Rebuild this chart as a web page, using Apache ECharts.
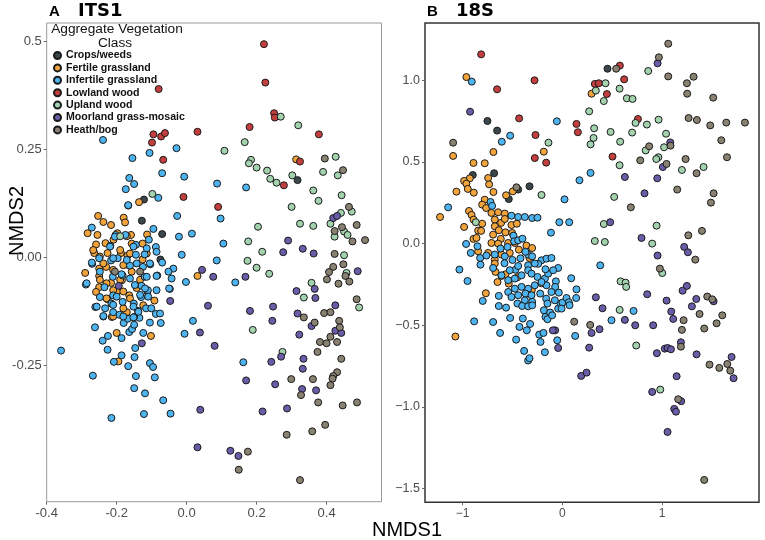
<!DOCTYPE html>
<html>
<head>
<meta charset="utf-8">
<script src="https://cdn.jsdelivr.net/npm/echarts@6/dist/echarts.min.js"></script>
<style>
  html, body { margin: 0; padding: 0; background: #fff; }
  #chart { width: 765px; height: 540px; }
</style>
</head>
<body>
<div id="chart"></div>
<script>
// vegetation classes (legend order) and their colours
var classNames = ['Crops/weeds', 'Fertile grassland', 'Infertile grassland', 'Lowland wood', 'Upland wood', 'Moorland grass-mosaic', 'Heath/bog'];
var classColors = ['#3b474c', '#f2a43c', '#4db4f0', '#c23f3e', '#a2d3ae', '#6a5ca8', '#898171'];

// tick values
var itsXTicks = [-0.4, -0.2, 0, 0.2, 0.4];
var itsYTicks = [-0.25, 0, 0.25, 0.5];
var s18XTicks = [-1, 0, 1];
var s18YTicks = [-1.5, -1, -0.5, 0, 0.5, 1];

/* A: ITS1 ordination, [NMDS1, NMDS2] */
var itsCrops = [[0.317,0.179],[-0.122,0.134],[-0.128,0.085],[-0.070,0.054],[-0.075,-0.005],[-0.112,-0.079]];
var itsFertile = [[0.313,0.227],[-0.136,0.128],[-0.253,0.096],[-0.238,0.082],[-0.216,0.075],[-0.180,0.092],[-0.176,0.081],[-0.283,0.056],[-0.255,0.052],[-0.113,0.053],[-0.259,0.030],[-0.232,0.033],[-0.209,0.041],[-0.159,0.052],[-0.126,0.032],[-0.264,0.010],[-0.226,0.010],[-0.188,0.010],[-0.169,0.004],[-0.126,-0.005],
  [-0.290,-0.036],[-0.250,-0.043],[-0.250,-0.069],[-0.259,-0.080],[-0.226,-0.097],[-0.214,-0.138],[-0.200,-0.175],[-0.195,-0.241],[-0.171,-0.127],[-0.124,-0.111],[-0.092,-0.100],[-0.102,-0.182],[-0.143,-0.071],[-0.164,-0.088],[-0.199,-0.079],[-0.250,-0.026],[-0.230,-0.022],[-0.170,-0.017],[-0.185,-0.053],[0.031,-0.043],[-0.216,-0.059],
  [-0.267,0.017],[-0.248,0.002],[-0.190,0.017],[-0.162,0.009],[-0.157,0.032],[-0.114,0.009],[-0.238,-0.014],[-0.210,-0.029],[-0.181,-0.018],[-0.157,-0.033],[-0.133,-0.052],[-0.248,-0.052],[-0.229,-0.060],[-0.190,-0.052],[-0.210,-0.076],[-0.181,-0.079],[-0.162,-0.095],[-0.229,-0.095],[-0.210,-0.137],[-0.181,-0.118],[-0.198,0.056],[-0.171,0.049]];
var itsInfertile = [[-0.239,0.272],[-0.106,0.242],[-0.029,0.253],[-0.155,0.230],[-0.070,0.195],[-0.007,0.187],[-0.164,0.184],[-0.150,0.170],[-0.174,0.158],[0.087,0.171],[0.170,0.162],[-0.081,0.138],[-0.167,0.120],[-0.027,0.096],[0.097,0.090],[-0.271,0.069],[-0.095,0.066],[0.015,0.055],[-0.022,0.048],[-0.203,0.052],[-0.175,0.052],[0.105,0.032],[-0.014,0.006],[0.086,-0.007],[-0.145,0.029],[-0.108,0.041],[-0.088,0.024],[-0.218,0.027],[-0.145,0.006],[-0.120,0.007],[-0.216,-0.007],[-0.250,-0.002],[-0.197,-0.002],
  [-0.359,-0.216],[-0.288,-0.063],[-0.270,-0.015],[-0.261,-0.115],[-0.262,-0.162],[-0.238,-0.137],[-0.240,-0.193],[-0.225,-0.182],[-0.226,-0.214],[-0.268,-0.274],[-0.215,-0.372],[-0.208,-0.242],[-0.186,-0.227],[-0.186,-0.187],[-0.167,-0.252],[-0.149,-0.231],[-0.147,-0.210],[-0.145,-0.275],[-0.150,-0.303],[-0.119,-0.315],[-0.122,-0.363],[-0.105,-0.245],[-0.096,-0.254],[-0.091,-0.278],[-0.067,-0.331],[-0.046,-0.362],[-0.124,-0.175],[-0.164,-0.173],[-0.156,-0.166],[-0.150,-0.156],[-0.180,-0.152],[-0.168,-0.142],[-0.135,-0.140],[-0.105,-0.151],[-0.074,-0.152],[-0.088,-0.131],[-0.116,-0.118],[-0.101,-0.118],[-0.139,-0.124],[-0.150,-0.138],[-0.192,-0.133],[-0.210,-0.127],[-0.248,-0.092],[-0.215,-0.107],[-0.183,-0.103],[-0.151,-0.107],[-0.130,-0.092],[-0.111,-0.076],[-0.048,-0.073],[-0.043,-0.049],[-0.038,-0.026],[-0.084,-0.042],[-0.120,-0.045],[-0.125,-0.022],[-0.104,-0.016],[-0.070,-0.012],[-0.162,-0.019],[-0.183,-0.042],[-0.211,-0.045],[-0.235,-0.069],[-0.210,-0.088],[-0.002,-0.057],[0.018,-0.147],[-0.006,-0.177],[0.139,-0.058],[0.162,-0.243],[-0.129,-0.066],
  [-0.167,0.121],[-0.205,0.048],[-0.152,0.025],[-0.114,0.021],[-0.086,0.013],[-0.052,-0.033],[-0.219,0.025],[-0.271,-0.012],[-0.210,-0.002],[-0.171,-0.006],[-0.143,-0.014],[-0.105,-0.014],[-0.248,-0.033],[-0.186,-0.039],[-0.162,-0.049],[-0.114,-0.045],[-0.086,-0.043],[-0.286,-0.060],[-0.148,-0.064],[-0.119,-0.072],[-0.086,-0.076],[-0.050,-0.072],[-0.200,-0.091],[-0.133,-0.087],[-0.110,-0.091],[-0.257,-0.114],[-0.233,-0.118],[-0.210,-0.110],[-0.152,-0.114],[-0.138,-0.126],[-0.076,-0.130],[-0.238,-0.136],[-0.181,-0.137],[-0.152,-0.139]];
var itsLowland = [[0.221,0.494],[0.225,0.405],[-0.080,0.390],[0.250,0.334],[0.252,0.324],[0.180,0.302],[-0.095,0.285],[-0.073,0.280],[-0.062,0.288],[0.031,0.291],[-0.099,0.266],[0.378,0.285],[-0.067,0.226],[0.324,0.222],[0.278,0.167],[-0.009,0.140],[0.090,0.117]];
var itsUpland = [[0.269,0.326],[0.319,0.306],[0.166,0.267],[0.108,0.247],[0.184,0.226],[0.178,0.218],[0.200,0.208],[0.230,0.201],[0.426,0.233],[0.390,0.198],[0.302,0.190],[0.432,0.190],[0.239,0.182],[0.257,0.173],[0.362,0.155],[0.443,0.144],[0.377,0.131],[0.300,0.117],[-0.098,0.147],[0.441,0.103],[0.472,0.106],[0.411,0.078],[0.324,0.078],[0.362,0.073],[0.204,0.071],[0.450,0.060],[0.460,0.052],[0.176,0.037],[0.216,0.013],[0.423,0.048],[0.450,0.005],[0.174,-0.008],
  [0.200,-0.024],[0.236,-0.038],[0.357,-0.059],[0.335,-0.093],[0.457,-0.036],[0.493,-0.116],[0.189,-0.168],[0.274,-0.219],[-0.190,0.049]];
var itsMoorland = [[0.419,0.091],[0.430,0.096],[0.290,0.039],[0.276,0.012],[0.332,0.020],[0.363,0.009],
  [-0.194,-0.066],[0.044,-0.029],[0.076,-0.045],[0.168,-0.045],[-0.047,-0.101],[0.061,-0.112],[0.181,-0.124],[0.247,-0.114],[0.245,-0.147],[0.038,-0.174],[0.080,-0.205],[-0.128,-0.199],[0.314,-0.078],[0.366,-0.073],[0.368,-0.094],[0.317,-0.130],[0.425,-0.111],[0.357,-0.159],[0.322,-0.179],[0.425,-0.170],[0.442,-0.175],[0.489,-0.032],[0.270,-0.230],[0.242,-0.242],[0.334,-0.235],[0.332,-0.258],[0.170,-0.285],[0.253,-0.294],[0.330,-0.305],[0.370,-0.308],[0.287,-0.350],[0.217,-0.357],[0.039,-0.353],[0.031,-0.440],[0.125,-0.448],[0.148,-0.460]];
var itsHeath = [[0.395,0.229],[0.447,0.202],[0.464,0.117],[0.444,0.070],[0.486,0.075],[0.423,0.061],[0.474,0.037],[0.510,0.040],[0.423,0.008],
  [0.419,-0.022],[0.448,-0.016],[0.407,-0.034],[0.401,-0.051],[0.454,-0.043],[0.465,-0.056],[0.434,-0.061],[0.486,-0.097],[0.335,-0.139],[0.393,-0.129],[0.411,-0.127],[0.366,-0.151],[0.436,-0.147],[0.438,-0.162],[0.411,-0.184],[0.381,-0.196],[0.400,-0.199],[0.430,-0.196],[0.374,-0.219],[0.442,-0.235],[0.430,-0.266],[0.419,-0.275],[0.417,-0.281],[0.411,-0.296],[0.361,-0.282],[0.299,-0.282],[0.327,-0.319],[0.376,-0.336],[0.446,-0.343],[0.487,-0.336],[0.396,-0.388],[0.359,-0.403],[0.286,-0.411],[0.175,-0.450],[0.149,-0.492],[0.324,-0.516],
  [-0.205,-0.033],[-0.133,-0.033]];

/* B: 18S ordination, [NMDS1, NMDS2] */
var s18Crops = [[0.453,1.071],[-0.751,0.751],[-0.654,0.692],[-0.684,0.431],[-0.898,0.420],[-0.329,0.351],[-0.537,0.273],[-0.443,0.331]];
var s18Fertile = [[-0.962,1.020],[0.293,0.918],[-1.095,0.537],[-0.891,0.494],[-0.778,0.492],[-0.691,0.561],[-0.186,0.563],[-0.744,0.402],[-0.734,0.363],[-0.928,0.400],[-0.985,0.384],[-0.962,0.367],[-0.948,0.335],[-0.888,0.312],[-1.062,0.318],[-0.691,0.316],[-0.564,0.296],[-0.497,0.320],[-1.226,0.163],[-0.985,0.102],[-0.778,0.269],[-0.804,0.239],[-0.764,0.218],[-0.936,0.200],[-0.910,0.176],[-0.890,0.147],[-0.804,0.122],[-0.844,0.080],[-0.814,0.078],[-0.891,0.029],[-0.861,0.035],[-0.711,0.188],[-0.677,0.147],[-0.644,0.192],[-0.577,0.184],[-0.677,0.106],[-0.614,0.127],[-0.577,0.151],[-0.510,0.114],[-0.456,0.122],[-0.694,0.055],[-0.637,0.082],[-0.570,0.069],[-0.503,0.065],[-0.617,0.029],[-0.711,0.004],[-0.644,0.000],[-0.543,0.004],[-0.476,0.004],[-0.436,-0.037],[-0.360,-0.012],[-0.303,-0.027],[-0.744,-0.057],[-0.844,-0.047],[-0.610,-0.067],[-0.527,-0.057],[-0.677,-0.098],[-0.329,-0.088],
  [-1.072,-0.569],[-0.767,-0.304],[-0.670,-0.173],[-0.650,-0.235],[-0.610,-0.198],[-0.570,-0.188],[-0.537,-0.245],[-0.450,-0.206],[-0.306,-0.286],[-0.209,-0.243],[-0.677,-0.122]];
var s18Infertile = [[-0.908,0.992],[-0.055,0.749],[-0.523,0.661],[-0.607,0.624],[0.283,0.433],[0.172,0.388],[0.022,0.271],[-1.145,0.222],[-0.720,0.255],[-0.704,0.231],[-0.510,0.171],[-0.443,0.163],[-0.376,0.163],[-0.303,0.157],[-0.249,0.159],[-0.030,0.131],[0.069,0.131],[-0.114,0.067],[-0.965,-0.002],[-0.918,-0.057],[-0.851,-0.016],[-0.824,-0.088],[-0.761,-0.073],[-0.677,-0.067],[-0.577,-0.078],[-0.490,0.049],[-0.483,0.014],[-0.443,0.020],[-0.209,-0.102],[-0.159,-0.092],[-0.109,-0.088],[-0.343,-0.067],[-0.303,-0.078],
  [-0.620,-0.030],[-0.550,-0.020],[-0.400,0.030],[-0.370,-0.050],[-0.500,-0.100],[-0.420,-0.090],[-0.580,-0.120],[-0.470,-0.160],
  [-1.032,-0.159],[-0.951,-0.229],[-0.821,-0.129],[-0.694,-0.149],[-0.798,-0.351],[-0.884,-0.476],[-0.694,-0.480],[-0.637,-0.320],[-0.637,-0.382],[-0.624,-0.547],[-0.564,-0.392],[-0.523,-0.455],[-0.463,-0.588],[-0.430,-0.510],[-0.396,-0.459],[-0.383,-0.657],[-0.356,-0.531],[-0.343,-0.716],[-0.329,-0.702],[-0.323,-0.492],[-0.232,-0.557],[-0.219,-0.602],[-0.189,-0.547],[-0.175,-0.665],[-0.185,-0.408],[-0.169,-0.449],[-0.149,-0.463],[-0.122,-0.422],[-0.102,-0.439],[-0.051,-0.592],[-0.042,-0.398],[-0.018,-0.367],[0.002,-0.361],[0.042,-0.333],[0.065,-0.359],[0.072,-0.377],[0.139,-0.333],[0.142,-0.280],[0.129,-0.565],[0.089,-0.212],[0.380,-0.133],[0.493,-0.469],[0.714,-0.412],[-0.042,-0.149],[-0.065,-0.231],[-0.072,-0.265],[-0.035,-0.300],[-0.109,-0.296],[-0.159,-0.255],[-0.175,-0.214],[-0.142,-0.184],[-0.092,-0.163],[-0.169,-0.157],[-0.242,-0.124],[-0.276,-0.122],[-0.343,-0.133],[-0.443,-0.137],[-0.527,-0.163],[-0.610,-0.194],[-0.543,-0.224],[-0.476,-0.214],[-0.409,-0.194],[-0.343,-0.163],[-0.309,-0.184],[-0.249,-0.204],[-0.209,-0.235],[-0.276,-0.255],[-0.343,-0.276],[-0.409,-0.265],[-0.476,-0.276],[-0.543,-0.296],[-0.510,-0.327],[-0.443,-0.316],[-0.369,-0.306],[-0.309,-0.316],[-0.222,-0.306],[-0.302,-0.357],[-0.376,-0.347],[-0.450,-0.367],[-0.403,-0.382],[-0.343,-0.384],[-0.302,-0.378],[-0.162,-0.337],[-0.149,-0.367],[-0.075,-0.347],[-0.008,-0.398]];
var s18Lowland = [[-0.814,1.159],[0.577,1.090],[0.620,1.006],[-0.279,1.000],[0.326,0.978],[0.366,0.982],[0.447,0.916],[-0.654,0.945],[-0.433,0.767],[0.758,0.763],[0.142,0.733],[0.156,0.682],[-0.269,0.665],[-0.276,0.524],[-0.162,0.496],[0.503,0.533]];
var s18Upland = [[0.433,0.982],[0.336,0.937],[0.574,0.949],[0.861,1.057],[0.416,0.873],[0.647,0.890],[0.704,0.886],[0.269,0.810],[0.734,0.739],[0.848,0.729],[0.965,0.759],[0.319,0.706],[0.484,0.684],[0.700,0.680],[1.040,0.673],[0.313,0.647],[0.580,0.624],[-0.139,0.618],[0.283,0.608],[1.020,0.590],[0.836,0.571],[0.963,0.529],[0.942,0.518],[0.574,0.480],[1.416,0.469],[1.199,0.451],[-0.209,0.298],[0.520,0.286],[0.945,0.110],[0.416,0.120],[0.326,0.016],[0.426,0.010],[0.901,0.000],[-0.868,0.131],
  [1.002,-0.180],[0.584,-0.231],[0.634,-0.239],[0.640,-0.265],[0.575,-0.406],[0.741,-0.624],[0.982,-0.894]];
var s18Moorland = [[0.955,1.104],[-0.925,0.808],[1.082,0.620],[1.008,0.469],[0.627,0.408],[0.952,0.400],[0.824,0.308],[0.480,0.131],[0.794,0.035],[1.222,-0.020],[1.259,-0.053],[0.955,-0.073],
  [0.336,-0.329],[0.403,-0.396],[0.373,-0.524],[0.293,-0.547],[0.269,-0.637],[0.189,-0.810],[0.243,-0.790],[-0.072,-0.531],[-0.095,-0.531],[-0.042,-0.639],[0.627,-0.467],[0.731,-0.500],[0.851,-0.310],[0.911,-0.500],[0.948,-0.671],[0.901,-0.908],[1.045,-0.349],[1.092,-0.416],[1.112,-0.461],[1.028,-0.643],[1.055,-0.639],[1.089,-0.647],[1.146,-0.812],[1.122,-1.012],[1.139,-1.029],[1.192,-0.965],[1.055,-1.153],[1.206,-0.288],[1.249,-0.259],[1.299,-0.384],[1.343,-0.339],[1.189,-0.604],[1.346,-0.678],[1.517,-0.353],[1.697,-0.694],[1.717,-0.824]];
var s18Heath = [[1.062,1.224],[0.968,1.141],[0.540,1.071],[1.062,1.024],[1.316,1.022],[1.249,0.982],[1.252,0.918],[1.513,0.894],[1.266,0.769],[1.349,0.757],[1.644,0.741],[1.831,0.741],[1.483,0.724],[1.594,0.633],[1.085,0.600],[0.871,0.596],[1.651,0.529],[1.236,0.518],[0.781,0.510],[1.045,0.488],[1.346,0.431],[1.152,0.331],[1.517,0.308],[1.490,0.251],[0.687,0.222],[1.400,0.078],[1.263,0.051],[1.333,-0.098],[-1.095,0.618],[-0.460,0.345],
  [0.978,-0.153],[0.119,-0.478],[0.279,-0.498],[1.216,-0.469],[1.199,-0.528],[1.189,-0.631],[1.376,-0.431],[1.423,-0.520],[1.453,-0.324],[1.503,-0.341],[1.547,-0.488],[1.604,-0.439],[1.476,-0.741],[1.574,-0.761],[1.654,-0.737],[1.684,-0.778],[1.162,-0.953],[1.423,-1.447]];

var itsData = [itsCrops, itsFertile, itsInfertile, itsLowland, itsUpland, itsMoorland, itsHeath];
var s18Data = [s18Crops, s18Fertile, s18Infertile, s18Lowland, s18Upland, s18Moorland, s18Heath];

var chart = echarts.init(document.getElementById('chart'));
var font = 'Liberation Sans, Arial, sans-serif';

var makeSeries = function (dataList, idx) {
    return dataList.map(function (d, i) {
        return {
            name: classNames[i],
            type: 'scatter',
            xAxisIndex: idx,
            yAxisIndex: idx,
            data: d,
            symbolSize: 7,
            itemStyle: {
                color: classColors[i],
                borderColor: '#1a1a1a',
                borderWidth: 1,
                opacity: 1
            }
        };
    });
};

var axisCommon = function (ticks, fmt, size) {
    return {
        type: 'value',
        scale: true,
        axisLine: { show: false, onZero: false },
        splitLine: { show: false },
        axisTick: { show: true, customValues: ticks, length: 3, lineStyle: { color: '#666' } },
        axisLabel: {
            customValues: ticks, formatter: fmt, margin: 5,
            color: '#4d4d4d', fontSize: size, fontFamily: font
        }
    };
};

var minusFmt = function (digits) {
    return function (v) {
        return (v < 0 ? '\u2212' : '') + Math.abs(v).toFixed(digits);
    };
};

var option = {
    backgroundColor: '#fff',
    animation: false,
    grid: [
        { left: 46.7, top: 23, width: 334.8, height: 478.7, show: true, borderColor: '#9a9a9a', borderWidth: 1 },
        { left: 425, top: 23, width: 334, height: 479.3, show: true, borderColor: '#333', borderWidth: 1.5 }
    ],
    xAxis: [
        Object.assign(axisCommon(itsXTicks, function (v) { return v.toFixed(1); }, 13), { gridIndex: 0, min: -0.4, max: 0.557 }),
        Object.assign(axisCommon(s18XTicks, minusFmt(0), 12), { gridIndex: 1, min: -1.377, max: 1.972 })
    ],
    yAxis: [
        Object.assign(axisCommon(itsYTicks, function (v) { return v === 0.5 ? '0.5' : v.toFixed(2); }, 13), { gridIndex: 0, min: -0.566, max: 0.543 }),
        Object.assign(axisCommon(s18YTicks, minusFmt(1), 12.5), { gridIndex: 1, min: -1.584, max: 1.351 })
    ],
    legend: {
        data: classNames,
        orient: 'vertical',
        left: 53,
        top: 49.5,
        padding: 0,
        itemWidth: 7,
        itemHeight: 7,
        itemGap: 0.4,
        icon: 'circle',
        textStyle: { fontFamily: font, fontWeight: 'bold', fontSize: 10.6, color: '#111', lineHeight: 12 }
    },
    graphic: [
        { type: 'text', left: 49, top: 4, style: { text: 'A', font: 'bold 15px Liberation Sans', fill: '#000' } },
        { type: 'text', left: 78, top: 2, style: { text: 'ITS1', font: 'bold 18px DejaVu Sans', fill: '#000' } },
        { type: 'text', left: 427, top: 4, style: { text: 'B', font: 'bold 15px Liberation Sans', fill: '#000' } },
        { type: 'text', left: 456, top: 2, style: { text: '18S', font: 'bold 18px DejaVu Sans', fill: '#000' } },
        { type: 'text', x: 117, y: 29, style: { text: 'Aggregate Vegetation', font: '13.7px Liberation Sans', fill: '#111', align: 'center', verticalAlign: 'middle' } },
        { type: 'text', x: 115, y: 43.5, style: { text: 'Class', font: '13.7px Liberation Sans', fill: '#111', align: 'center', verticalAlign: 'middle' } },
        { type: 'text', x: 407, y: 530, style: { text: 'NMDS1', font: '20px Liberation Sans', fill: '#000', align: 'center', verticalAlign: 'middle' } },
        { type: 'text', x: 17, y: 221, rotation: Math.PI / 2, style: { text: 'NMDS2', font: '20px Liberation Sans', fill: '#000', align: 'center', verticalAlign: 'middle' } }
    ],
    series: makeSeries(itsData, 0).concat(makeSeries(s18Data, 1))
};

chart.setOption(option);
</script>
</body>
</html>
